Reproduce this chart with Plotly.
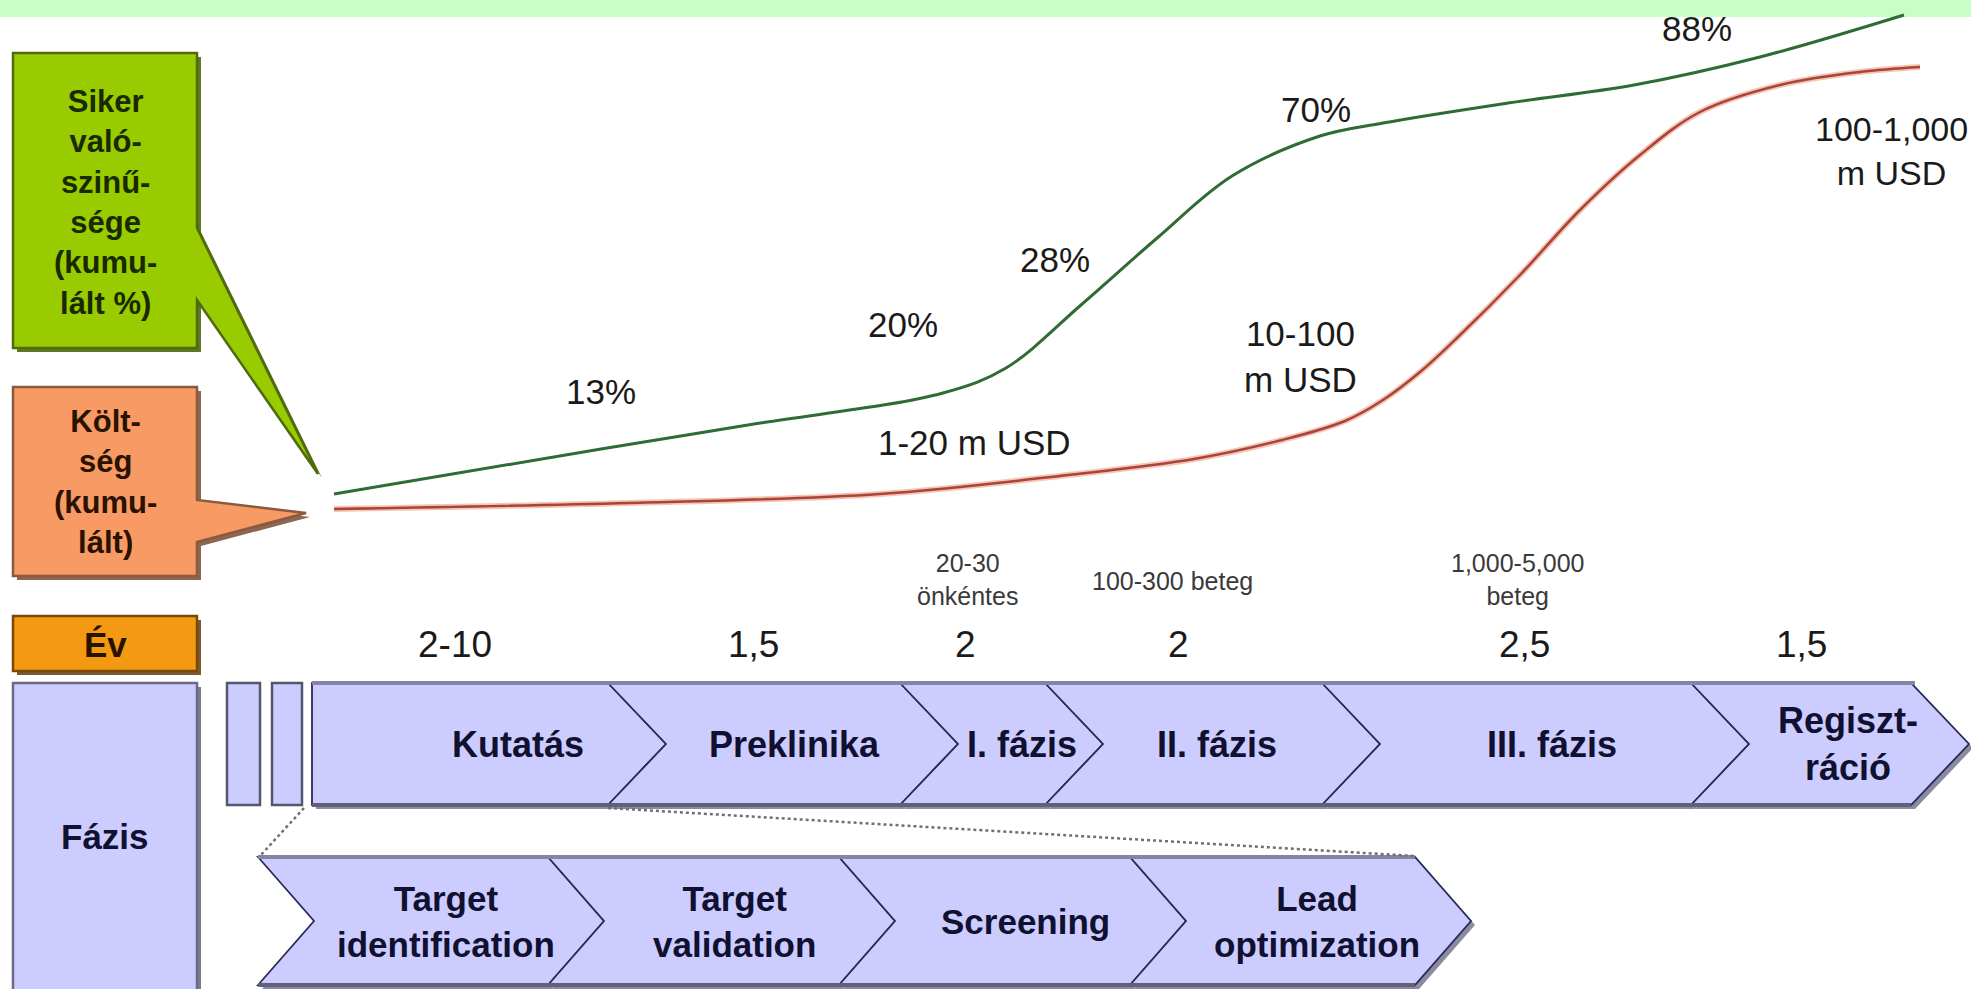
import plotly.graph_objects as go

W, H = 1971, 989

# ---------------- data ----------------
success_labels = ["13%", "20%", "28%", "70%", "88%"]
cost_labels = ["1-20 m USD", "10-100<br>m USD", "100-1,000<br>m USD"]
years = ["2-10", "1,5", "2", "2", "2,5", "1,5"]
phases = ["Kutatás", "Preklinika", "I. fázis", "II. fázis", "III. fázis", "Regiszt-<br>ráció"]
participants = ["20-30<br>önkéntes", "100-300 beteg", "1,000-5,000<br>beteg"]
discovery_steps = ["Target<br>identification", "Target<br>validation", "Screening", "Lead<br>optimization"]
row_labels = ["Siker<br>való-<br>szinű-<br>sége<br>(kumu-<br>lált %)", "Költ-<br>ség<br>(kumu-<br>lált)", "Év", "Fázis"]

# cumulative success curve (drawing units, y downwards)
success_x = [334, 601, 754, 943, 1006, 1081, 1156, 1232, 1320, 1383, 1508, 1634, 1760, 1904]
success_y = [494, 449, 424, 393, 368, 305, 239, 176, 136, 123, 103, 85, 57, 15]
# cumulative cost curve
cost_x = [334, 629, 880, 1068, 1194, 1282, 1345, 1383, 1420, 1458, 1520, 1580, 1640, 1700, 1780, 1860, 1920]
cost_y = [509, 503, 494, 475, 459, 440, 421, 400, 372, 337, 275, 210, 155, 112, 85, 72, 67]

# ---------------- layout geometry ----------------
success_pos = [(601, 391), (903, 324), (1055, 259), (1316, 109), (1697, 28)]
cost_pos = [(974, 442), (1300, 356), (1891, 151)]
year_pos = [(455, 644), (753, 644), (965, 644), (1178, 644), (1524, 644), (1801, 644)]
participant_pos = [(967, 579), (1172, 581), (1517, 579)]

top_bounds = [312, 608, 900, 1045, 1322, 1691, 1911]
top_y0, top_y1, top_d = 683, 805, 58
bot_bounds = [258, 548, 839, 1130, 1415]
bot_y0, bot_y1, bot_d = 857, 985, 56

LAV = "#CCCCFF"
EDGE = "#2A2A58"
FONT = "Liberation Sans, Arial, sans-serif"

shapes = []
annotations = []


def path(pts):
    return "M " + " L ".join(f"{x},{y}" for x, y in pts) + " Z"


def add_poly(pts, fill, line, width=1.5, shadow=None):
    if shadow:
        spts = [(x + 4, y + 4) for x, y in pts]
        shapes.append(dict(type="path", path=path(spts), fillcolor=shadow,
                           line=dict(width=0), layer="below"))
    shapes.append(dict(type="path", path=path(pts), fillcolor=fill,
                       line=dict(color=line, width=width), layer="below"))


def ann(x, y, text, size, color="#1a1a1a", bold=False):
    if bold:
        text = "<b>" + text.replace("<br>", "</b><br><b>") + "</b>"
    annotations.append(dict(x=x, y=y, xref="x", yref="y", text=text, showarrow=False,
                            font=dict(family=FONT, size=size, color=color),
                            xanchor="center", yanchor="middle", align="center"))


# top green band
shapes.append(dict(type="rect", x0=0, x1=W, y0=0, y1=17, fillcolor="#C8FFC8",
                   line=dict(width=0), layer="below"))

# callouts on the left
add_poly([(13, 53), (197, 53), (197, 228), (318, 474), (197, 300), (197, 348), (13, 348)],
         "#99CC00", "#4F6A10", 2.5, shadow="#5E7A20")
add_poly([(13, 387), (197, 387), (197, 500), (306, 513), (197, 542), (197, 576), (13, 576)],
         "#F79A63", "#8A5A40", 2.5, shadow="#8C6650")
add_poly([(13, 616), (197, 616), (197, 671), (13, 671)], "#F39A12", "#7A4A05", 2.5,
         shadow="#7A5A30")
add_poly([(13, 683), (197, 683), (197, 992), (13, 992)], LAV, "#6A6A88", 2.5,
         shadow="#7A7A90")

# small rects before the phase bar
for x0, x1 in [(227, 260), (272, 302)]:
    add_poly([(x0, top_y0), (x1, top_y0), (x1, top_y1), (x0, top_y1)], LAV, "#55556E", 2.5)

# top phase chevrons
top_mid = (top_y0 + top_y1) / 2
for i in range(len(phases)):
    a, b = top_bounds[i], top_bounds[i + 1]
    pts = [(a, top_y0), (b, top_y0), (b + top_d, top_mid), (b, top_y1), (a, top_y1)]
    if i > 0:
        pts.append((a + top_d, top_mid))
    add_poly(pts, LAV, EDGE, 1.8, shadow="#8A8AA0")
shapes.append(dict(type="line", x0=top_bounds[0], x1=top_bounds[-1] + 4, y0=top_y0, y1=top_y0,
                   line=dict(color="#8484A4", width=4)))
shapes.append(dict(type="line", x0=top_bounds[0], x1=top_bounds[-1], y0=top_y1, y1=top_y1,
                   line=dict(color="#60607A", width=4)))

# bottom discovery chevrons
bot_mid = (bot_y0 + bot_y1) / 2
for i in range(len(discovery_steps)):
    a, b = bot_bounds[i], bot_bounds[i + 1]
    pts = [(a, bot_y0), (b, bot_y0), (b + bot_d, bot_mid), (b, bot_y1), (a, bot_y1),
           (a + bot_d, bot_mid)]
    add_poly(pts, LAV, EDGE, 1.8, shadow="#8A8AA0")
shapes.append(dict(type="line", x0=bot_bounds[0], x1=bot_bounds[-1], y0=bot_y0, y1=bot_y0,
                   line=dict(color="#8484A4", width=4)))
shapes.append(dict(type="line", x0=bot_bounds[0], x1=bot_bounds[-1], y0=bot_y1, y1=bot_y1,
                   line=dict(color="#60607A", width=4)))

# dotted zoom lines
shapes.append(dict(type="line", x0=304, y0=808, x1=260, y1=856,
                   line=dict(color="#707070", width=2.5, dash="dot")))
shapes.append(dict(type="line", x0=608, y0=808, x1=1415, y1=856,
                   line=dict(color="#707070", width=2.5, dash="dot")))

# ---------------- curves ----------------
fig = go.Figure()
fig.add_trace(go.Scatter(x=cost_x, y=cost_y, mode="lines",
                         line=dict(color="#F6C4B4", width=6, shape="spline", smoothing=1.0),
                         hoverinfo="skip", showlegend=False))
fig.add_trace(go.Scatter(x=cost_x, y=cost_y, mode="lines",
                         line=dict(color="#A8443A", width=2.5, shape="spline", smoothing=1.0),
                         hoverinfo="skip", showlegend=False))
fig.add_trace(go.Scatter(x=success_x, y=success_y, mode="lines",
                         line=dict(color="#2F6B34", width=3, shape="spline", smoothing=1.0),
                         hoverinfo="skip", showlegend=False))

# ---------------- texts ----------------
ann(105, 202, row_labels[0], 31, "#1A2A00", bold=True)
ann(105, 482, row_labels[1], 31, "#2A1200", bold=True)
ann(105, 644, row_labels[2], 35, "#2A1200", bold=True)
ann(105, 836, row_labels[3], 35, "#101030", bold=True)

for t, (x, y) in zip(success_labels, success_pos):
    ann(x, y, t, 35)
for t, (x, y) in zip(cost_labels, cost_pos):
    ann(x, y, t, 35 if "1,000" not in t else 34)
for t, (x, y) in zip(years, year_pos):
    ann(x, y, t, 37)
for t, (x, y) in zip(participants, participant_pos):
    ann(x, y, t, 25, "#3A3A3A")

top_label_x = [518, 794, 1022, 1217, 1552, 1848]
for t, x in zip(phases, top_label_x):
    ann(x, top_mid, t, 36, "#101030", bold=True)
bot_label_x = [446, 734, 1025, 1317]
for t, x in zip(discovery_steps, bot_label_x):
    ann(x, bot_mid, t, 35, "#101030", bold=True)

fig.update_layout(
    width=W, height=H, margin=dict(l=0, r=0, t=0, b=0),
    paper_bgcolor="white", plot_bgcolor="white",
    xaxis=dict(range=[0, W], visible=False, fixedrange=True),
    yaxis=dict(range=[H, 0], visible=False, fixedrange=True),
    shapes=shapes, annotations=annotations, showlegend=False,
)

fig.write_html("out.html", config={"displayModeBar": False},
               post_script="document.body.style.margin='0';document.body.style.overflow='hidden';")
